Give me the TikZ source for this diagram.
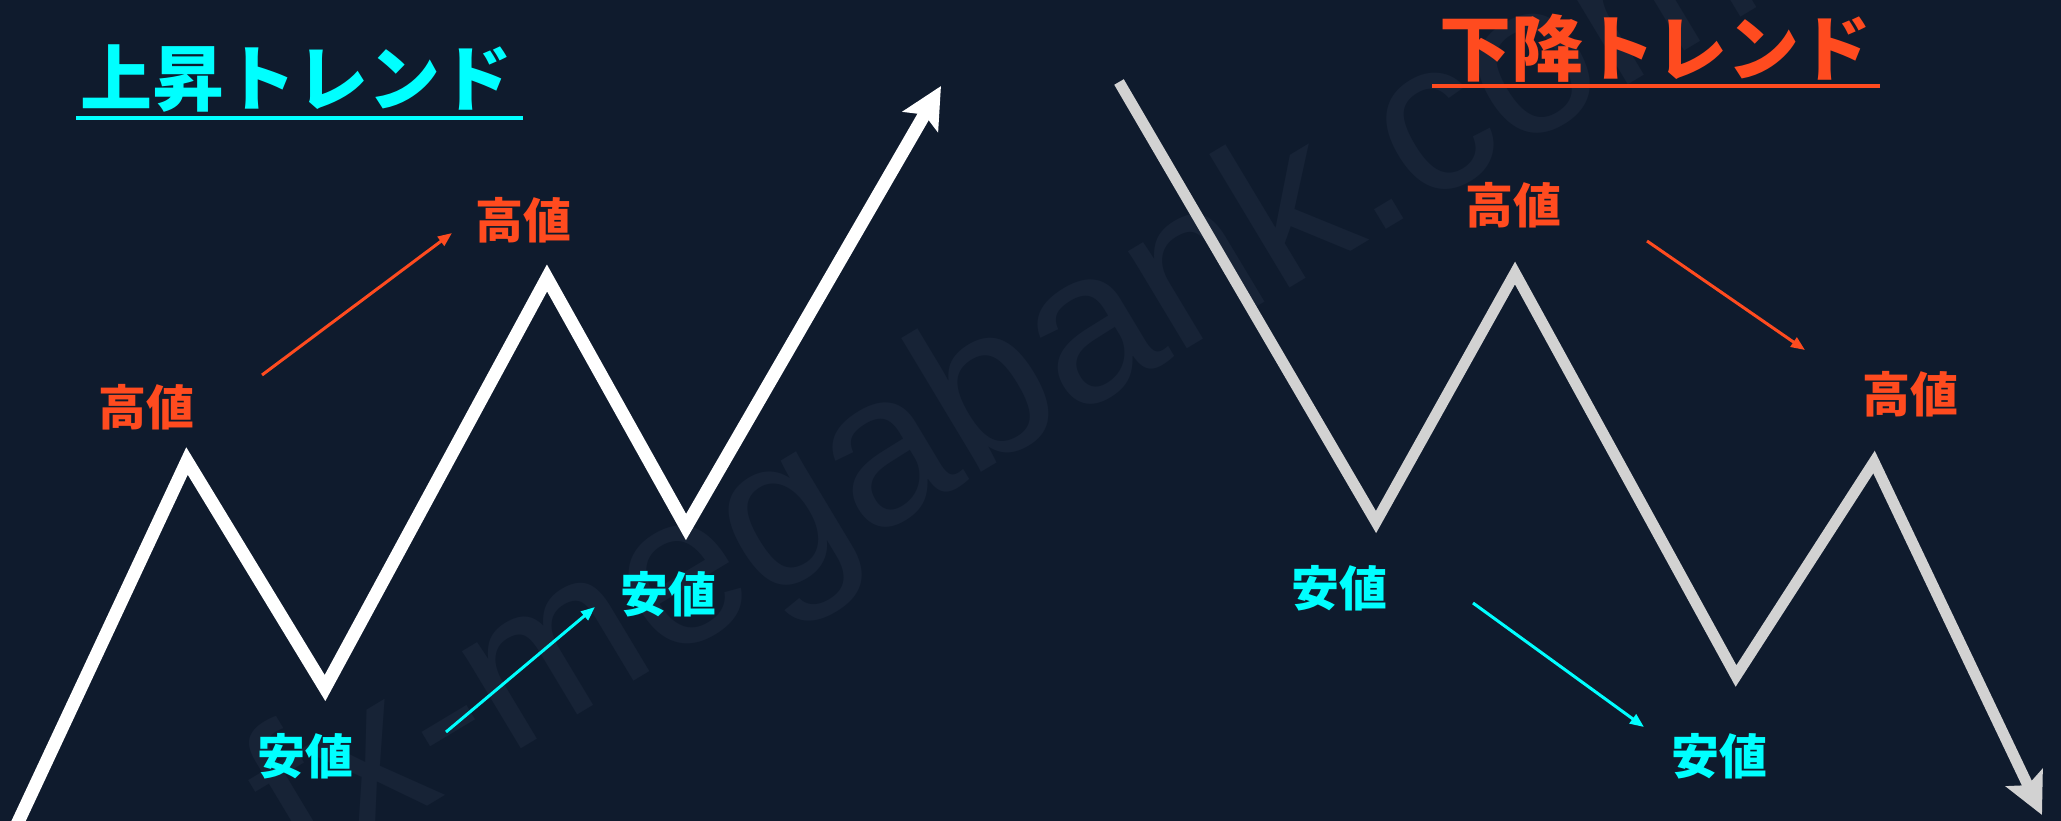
\documentclass[tikz,border=0pt]{standalone}
\usepackage{fontspec}
\newfontfamily\jp{Noto Sans CJK JP}
\newfontfamily\wm{Liberation Sans}
\usetikzlibrary{arrows.meta}
\definecolor{bg}{HTML}{0F1B2D}
\definecolor{wmc}{HTML}{172336}
\definecolor{upc}{HTML}{00FFFF}
\definecolor{dnc}{HTML}{FF4B1F}
\definecolor{greyc}{HTML}{D2D2D2}
\tikzset{
  lbl/.style={font=\jp\bfseries\fontsize{48}{48}\selectfont, inner sep=0pt},
  ttl/.style={font=\jp\bfseries\fontsize{72}{72}\selectfont, inner sep=0pt},
  thinarrow/.style={line width=3pt, -{Triangle[length=14pt,width=11pt]}},
  bigarrow/.style={line join=miter, line cap=butt, -{Stealth[length=41pt,width=40pt,inset=8pt]}},
}
\begin{document}
\begin{tikzpicture}[x=1pt,y=-1pt]
\fill[bg] (0,0) rectangle (2061,821);
\useasboundingbox (0,0) rectangle (2061,821);
\begin{scope}
\clip (0,0) rectangle (2061,821);
% watermark
\node[wmc, font=\wm\fontsize{215}{215}\selectfont, anchor=base west, rotate=31, inner sep=0pt] (wmark) at (304,880) {fx-megabank.com};
% up trend
\coordinate (u0) at (12,835);
\coordinate (u1) at (187,461);
\coordinate (u2) at (325,688);
\coordinate (u3) at (547,278);
\coordinate (u4) at (686,527);
\coordinate (u5) at (941,86);
\draw[white, line width=13pt, bigarrow] (u0) -- (u1) -- (u2) -- (u3) -- (u4) -- (u5);
% down trend
\coordinate (d0) at (1119,82);
\coordinate (d1) at (1376,522);
\coordinate (d2) at (1515,273);
\coordinate (d3) at (1736,676);
\coordinate (d4) at (1874,462);
\coordinate (d5) at (2042,815);
\draw[greyc, line width=11pt, bigarrow] (d0) -- (d1) -- (d2) -- (d3) -- (d4) -- (d5);
\end{scope}
% titles
\node[ttl, upc] (t1) at (296,79) {上昇トレンド};
\coordinate (t1a) at (76,118);
\coordinate (t1b) at (523,118);
\draw[upc, line width=4pt] (t1a) -- (t1b);
\node[ttl, dnc] (t2) at (1655,48) {下降トレンド};
\coordinate (t2a) at (1432,86);
\coordinate (t2b) at (1880,86);
\draw[dnc, line width=4pt] (t2a) -- (t2b);
% labels left
\node[lbl, dnc] (h1) at (146,407) {高値};
\node[lbl, dnc] (h2) at (523,220) {高値};
\node[lbl, upc] (l1) at (305,756) {安値};
\node[lbl, upc] (l2) at (668,594) {安値};
% labels right
\node[lbl, dnc] (h3) at (1513,205) {高値};
\node[lbl, upc] (l3) at (1339,588) {安値};
\node[lbl, dnc] (h4) at (1910,394) {高値};
\node[lbl, upc] (l4) at (1719,756) {安値};
% thin arrows
\coordinate (ra0) at (262,375);
\coordinate (ra1) at (452,233);
\draw[dnc, thinarrow] (ra0) -- (ra1);
\coordinate (ca0) at (446,732);
\coordinate (ca1) at (595,607);
\draw[upc, thinarrow] (ca0) -- (ca1);
\coordinate (rb0) at (1647,241);
\coordinate (rb1) at (1805,350);
\draw[dnc, thinarrow] (rb0) -- (rb1);
\coordinate (cb0) at (1473,603);
\coordinate (cb1) at (1644,727);
\draw[upc, thinarrow] (cb0) -- (cb1);
\end{tikzpicture}
\end{document}
